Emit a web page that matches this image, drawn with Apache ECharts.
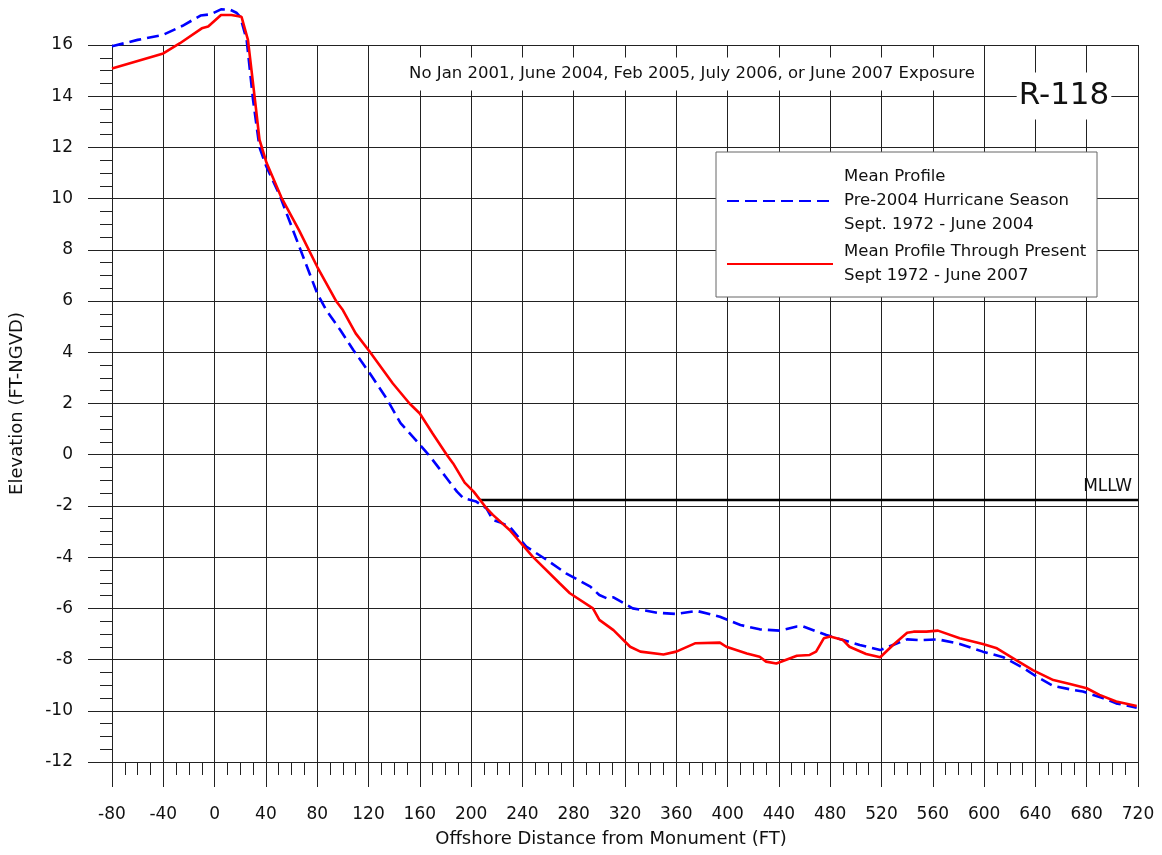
<!DOCTYPE html>
<html>
<head>
<meta charset="UTF-8">
<title>R-118</title>
<script src="https://cdn.jsdelivr.net/npm/echarts@6/dist/echarts.min.js"></script>
<style>
  body, html { margin: 0; padding: 0; width: 100%; height: 100%; background: #fff; }
  #main { width: 1162px; height: 855px; }
</style>
</head>
<body>
<div id="main"></div>
<script>
// Pre-2004 mean profile (blue dashed)
const blueX = [-80, -60, -40, -25, -11, -3, 5, 12, 17, 20, 25, 30, 35, 40, 51, 54, 67, 80, 87, 98,
  108, 121, 134, 145, 158, 168, 181, 189, 194, 204, 212, 217, 223, 230, 243, 259, 274, 293, 300, 306,
  311, 326, 345, 360, 376, 394, 410, 425, 441, 454, 459, 477, 488, 503, 519, 529, 540, 550, 564, 581,
  599, 615, 631, 641, 654, 667, 677, 693, 703, 719];
const blueY = [15.95, 16.2, 16.4, 16.75, 17.15, 17.2, 17.39, 17.38, 17.26, 17.1, 16.2, 13.85, 12.0, 11.3, 10.1, 9.7, 8.0, 6.3, 5.65, 4.87,
  4.1, 3.18, 2.2, 1.23, 0.51, -0.07, -0.92, -1.44, -1.7, -1.83, -2.1, -2.55, -2.65, -2.81, -3.59, -4.11, -4.63, -5.15, -5.48, -5.61,
  -5.57, -6.0, -6.17, -6.22, -6.1, -6.33, -6.65, -6.82, -6.87, -6.71, -6.71, -7.04, -7.21, -7.43, -7.63, -7.43, -7.21, -7.24, -7.21, -7.39,
  -7.69, -7.91, -8.34, -8.67, -9.03, -9.16, -9.25, -9.51, -9.71, -9.88];

// mean profile through present (red)
const redX = [-80, -40, -27, -10, -5, 5, 13, 21, 26, 31.5, 35, 40.5, 52, 66, 80, 95, 100, 110, 121, 139, 152,
  160, 170, 181, 186, 195, 202, 212, 217, 230, 248, 269, 277, 295, 300, 311, 324, 332, 350, 360, 375,
  394, 399, 415, 425, 430, 438, 454, 464, 469, 475, 480, 490, 495, 508, 519, 529, 540, 545, 555, 564,
  581, 599, 610, 625, 638, 654, 667, 680, 690, 703, 719];
const redY = [15.08, 15.67, 16.07, 16.65, 16.72, 17.17, 17.17, 17.1, 16.2, 13.85, 12.3, 11.4, 10.05, 8.75, 7.34, 5.98, 5.65, 4.74, 4.02, 2.78, 2.0,
  1.61, 0.83, 0.0, -0.34, -1.09, -1.44, -2.09, -2.35, -2.94, -3.98, -5.02, -5.41, -6.0, -6.45, -6.85, -7.5, -7.69, -7.8, -7.69, -7.36,
  -7.34, -7.5, -7.76, -7.89, -8.08, -8.15, -7.85, -7.82, -7.69, -7.17, -7.1, -7.24, -7.5, -7.78, -7.91, -7.43, -6.95, -6.91, -6.91, -6.87,
  -7.17, -7.39, -7.56, -8.02, -8.41, -8.8, -8.95, -9.12, -9.38, -9.64, -9.81];

const mllwX = [207, 720];
const mllwY = [-1.77, -1.77];

const blueLabel = 'Mean Profile\nPre-2004 Hurricane Season\nSept. 1972 - June 2004';
const redLabel = 'Mean Profile Through Present\nSept 1972 - June 2007';

const FONT = '"DejaVu Sans", sans-serif';
const zip = (xs, ys) => xs.map((x, i) => [x, ys[i]]);

const chart = echarts.init(document.getElementById('main'));

const gridColor = '#222';

chart.setOption({
  backgroundColor: '#fff',
  animation: false,
  grid: { left: 112, right: 24, top: 45, bottom: 93 },
  xAxis: {
    type: 'value',
    min: -80, max: 720, interval: 40,
    axisLine: { onZero: false, lineStyle: { color: gridColor, width: 1 } },
    axisTick: { length: 25, lineStyle: { color: gridColor } },
    minorTick: { show: true, splitNumber: 4, length: 13, lineStyle: { color: gridColor } },
    splitLine: { show: true, lineStyle: { color: gridColor, width: 1 } },
    axisLabel: { color: '#111', fontSize: 17, fontFamily: FONT, margin: 44 },
    name: 'Offshore Distance from Monument (FT)',
    nameLocation: 'middle',
    nameGap: 68,
    nameTextStyle: { color: '#111', fontSize: 18, fontFamily: FONT, padding: [0, 28, 0, 0] }
  },
  yAxis: {
    type: 'value',
    min: -12, max: 16, interval: 2,
    axisLine: { show: true, onZero: false, lineStyle: { color: gridColor, width: 1 } },
    axisTick: { show: true, length: 24, lineStyle: { color: gridColor } },
    minorTick: { show: true, splitNumber: 4, length: 12, lineStyle: { color: gridColor } },
    splitLine: { show: true, lineStyle: { color: gridColor, width: 1 } },
    axisLabel: { color: '#111', fontSize: 17, fontFamily: FONT, margin: 39 },
    name: 'Elevation (FT-NGVD)',
    nameLocation: 'middle',
    nameGap: 86,
    nameTextStyle: { color: '#111', fontSize: 18, fontFamily: FONT }
  },
  legend: {
    orient: 'vertical',
    left: 716, top: 152,
    padding: [13, 10, 9, 10],
    itemWidth: 106, itemHeight: 14, itemGap: 3,
    z: 5,
    data: ['blue', 'red'],
    itemStyle: { opacity: 0 },
    formatter: n => (n === 'blue' ? blueLabel : redLabel),
    textStyle: { color: '#111', fontSize: 16.5, fontFamily: FONT, lineHeight: 24, padding: [0, 0, 0, 6] }
  },
  graphic: [
    {
      type: 'rect', z: 3,
      shape: { x: 716, y: 152, width: 381, height: 145 },
      style: { fill: '#fff', stroke: '#666', lineWidth: 1 }
    },
    {
      type: 'text', z: 3, x: 692, y: 74,
      style: {
        text: 'No Jan 2001, June 2004, Feb 2005, July 2006, or June 2007 Exposure',
        font: '16.5px ' + FONT, fill: '#111', align: 'center', verticalAlign: 'middle',
        backgroundColor: '#fff', padding: [8, 6]
      }
    },
    {
      type: 'text', z: 3, x: 1064, y: 96,
      style: {
        text: 'R-118',
        font: '31px ' + FONT, fill: '#111', align: 'center', verticalAlign: 'middle',
        backgroundColor: '#fff', padding: [8, 2]
      }
    },
    {
      type: 'text', z: 3, x: 1132, y: 487,
      style: {
        text: 'MLLW',
        font: '17px ' + FONT, fill: '#111', align: 'right', verticalAlign: 'middle'
      }
    }
  ],
  series: [
    {
      name: 'mllw', type: 'line', data: zip(mllwX, mllwY),
      showSymbol: false, symbol: 'none', silent: true,
      lineStyle: { color: '#000', width: 2.5 }
    },
    {
      name: 'blue', type: 'line', data: zip(blueX, blueY),
      symbol: 'none', clip: false,
      itemStyle: { color: '#0000ff' },
      lineStyle: { color: '#0000ff', width: 2.6, type: [12, 6] }
    },
    {
      name: 'red', type: 'line', data: zip(redX, redY),
      symbol: 'none', clip: false,
      itemStyle: { color: '#ff0000' },
      lineStyle: { color: '#ff0000', width: 2.6 }
    }
  ]
});
</script>
</body>
</html>
